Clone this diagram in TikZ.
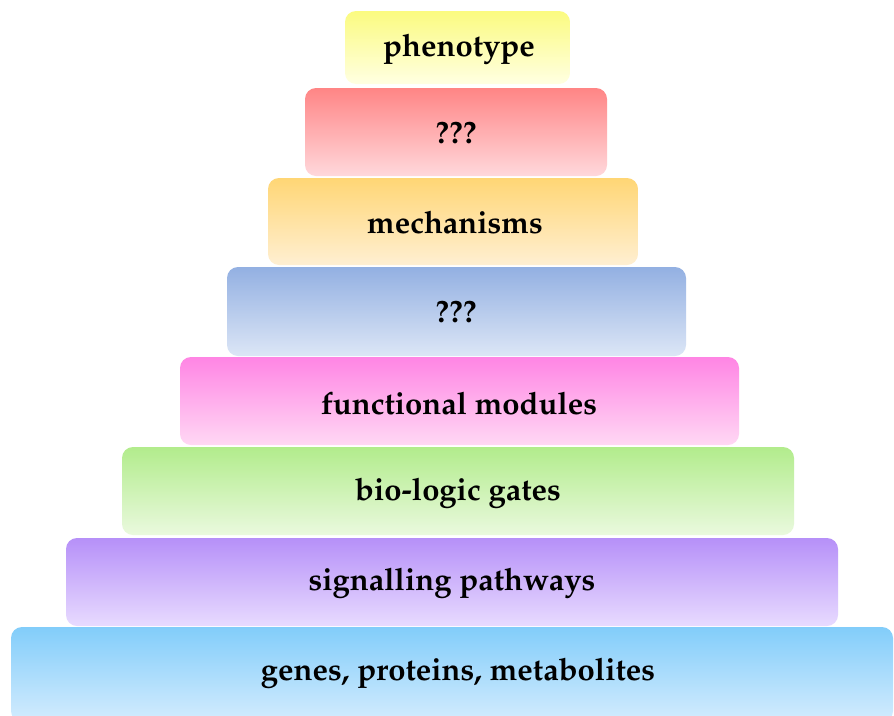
\documentclass[tikz,border=0pt]{standalone}
\usepackage[T1]{fontenc}
\usepackage{mathpazo}
\definecolor{yelT}{HTML}{FBFB80}
\definecolor{yelB}{HTML}{FFFFE2}
\definecolor{redT}{HTML}{FF8585}
\definecolor{redB}{HTML}{FFD8DC}
\definecolor{oraT}{HTML}{FFD675}
\definecolor{oraB}{HTML}{FFEFD2}
\definecolor{bluT}{HTML}{93B0E2}
\definecolor{bluB}{HTML}{DCE6F6}
\definecolor{pnkT}{HTML}{FF85E4}
\definecolor{pnkB}{HTML}{FFD8F4}
\definecolor{grnT}{HTML}{B2EC8C}
\definecolor{grnB}{HTML}{EAF9DE}
\definecolor{purT}{HTML}{B690F8}
\definecolor{purB}{HTML}{E8DBFF}
\definecolor{cyaT}{HTML}{82CDFA}
\definecolor{cyaB}{HTML}{D4ECFE}
\tikzset{
  layer/.style 2 args={rounded corners=11pt, top color=#1, bottom color=#2, draw=none},
  lbl/.style={font=\fontsize{31}{36}\selectfont\bfseries, text=black, inner sep=0pt}
}
\begin{document}
\begin{tikzpicture}[x=1pt,y=-1pt]
\useasboundingbox (0,0) rectangle (894,715);
\fill[white] (0,0) rectangle (894,715);
\path[layer={yelT}{yelB}] (345,11) rectangle (570,84);
\path[layer={redT}{redB}] (305,88) rectangle (607,176);
\path[layer={oraT}{oraB}] (268,178) rectangle (638,265);
\path[layer={bluT}{bluB}] (227,267) rectangle (686,356);
\path[layer={pnkT}{pnkB}] (180,357) rectangle (739,445);
\path[layer={grnT}{grnB}] (122,447) rectangle (794,535);
\path[layer={purT}{purB}] (66,538) rectangle (838,626);
\path[layer={cyaT}{cyaB}] (11,627) rectangle (893,722);
\node[lbl] (l1) at (459,49) {phenotype};
\node[lbl] (l2) at (456,133) {???};
\node[lbl] (l3) at (455,222) {mechanisms};
\node[lbl] (l4) at (456,312) {???};
\node[lbl] (l5) at (459,403) {functional modules};
\node[lbl] (l6) at (458,493) {bio-logic gates};
\node[lbl] (l7) at (452,583) {signalling pathways};
\node[lbl] (l8) at (458,673) {genes, proteins, metabolites};
\end{tikzpicture}
\end{document}
